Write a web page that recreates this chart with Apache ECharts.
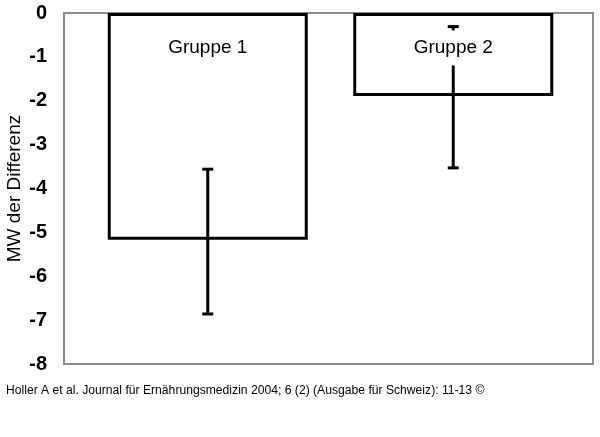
<!DOCTYPE html>
<html>
<head>
<meta charset="utf-8">
<script src="https://cdn.jsdelivr.net/npm/echarts@6/dist/echarts.min.js"></script>
<style>
  html, body { margin: 0; padding: 0; background: #fff; }
  #main { width: 600px; height: 437px; }
</style>
</head>
<body>
<div id="main"></div>
<script>
var groups = ['Gruppe 1', 'Gruppe 2'];
var means = [-5.17, -1.89];
var errHigh = [-3.56, -0.31];
var errLow = [-6.86, -3.53];
var yTicks = { min: -8, max: 0, step: 1 };

var font = 'Arial, "Liberation Sans", sans-serif';
var chart = echarts.init(document.getElementById('main'), null, { renderer: 'canvas' });

var errData = groups.map(function (g, i) {
    return [i, means[i], errLow[i], errHigh[i]];
});

var option = {
    backgroundColor: '#fff',
    animation: false,
    title: {
        text: 'Holler A et al. Journal für Ernährungsmedizin 2004; 6 (2) (Ausgabe für Schweiz): 11-13 ©',
        left: 1,
        top: 380,
        textStyle: { fontFamily: font, fontSize: 12.15, fontWeight: 'normal', color: '#000' }
    },
    grid: [
        // frame + axis labels
        { left: 64, right: 7, top: 13, bottom: 73, outerBoundsMode: 'none', containLabel: false,
          show: true, borderColor: '#8a8a8a', borderWidth: 2, backgroundColor: 'transparent' },
        // bars
        { left: 85, right: 24, top: 13, bottom: 73, outerBoundsMode: 'none', containLabel: false }
    ],
    xAxis: [
        { type: 'category', gridIndex: 0, data: groups, show: false },
        { type: 'category', gridIndex: 1, data: groups, show: false }
    ],
    yAxis: [
        {
            type: 'value', gridIndex: 0,
            min: yTicks.min, max: yTicks.max, interval: yTicks.step,
            name: 'MW der Differenz',
            nameLocation: 'middle',
            nameRotate: 90,
            nameGap: 40,
            nameMoveOverlap: false,
            nameTextStyle: { fontFamily: font, fontSize: 19, color: '#000' },
            axisLine: { show: false },
            axisTick: { show: false },
            splitLine: { show: false },
            axisLabel: { fontFamily: font, fontSize: 20, fontWeight: 'bold', color: '#000', margin: 17 }
        },
        {
            type: 'value', gridIndex: 1,
            min: yTicks.min, max: yTicks.max, interval: yTicks.step,
            show: false, splitLine: { show: false }
        }
    ],
    series: [
        {
            type: 'bar',
            xAxisIndex: 1,
            yAxisIndex: 1,
            data: means,
            barWidth: 200,
            z: 2,
            itemStyle: { color: '#fff', borderColor: '#000', borderWidth: 3 }
        },
        {
            type: 'custom',
            xAxisIndex: 1,
            yAxisIndex: 1,
            z: 3,
            data: errData,
            renderItem: function (params, api) {
                var i = api.value(0);
                var lo = api.coord([i, api.value(2)]);
                var hi = api.coord([i, api.value(3)]);
                var top = api.coord([i, 0]);
                var cap = 5.5;
                var style = { stroke: '#000', lineWidth: 3 };
                return {
                    type: 'group',
                    children: [
                        { type: 'line', z2: 1, shape: { x1: hi[0], y1: hi[1], x2: lo[0], y2: lo[1] }, style: style },
                        { type: 'line', z2: 1, shape: { x1: hi[0] - cap, y1: hi[1], x2: hi[0] + cap, y2: hi[1] }, style: style },
                        { type: 'line', z2: 1, shape: { x1: lo[0] - cap, y1: lo[1], x2: lo[0] + cap, y2: lo[1] }, style: style },
                        {
                            type: 'text', z2: 5,
                            x: top[0], y: top[1] + 35,
                            style: {
                                text: groups[i],
                                fontFamily: font, fontSize: 19, fill: '#000',
                                align: 'center', verticalAlign: 'middle',
                                backgroundColor: '#fff', padding: [8, 4]
                            }
                        }
                    ]
                };
            }
        }
    ]
};

chart.setOption(option);
</script>
</body>
</html>
